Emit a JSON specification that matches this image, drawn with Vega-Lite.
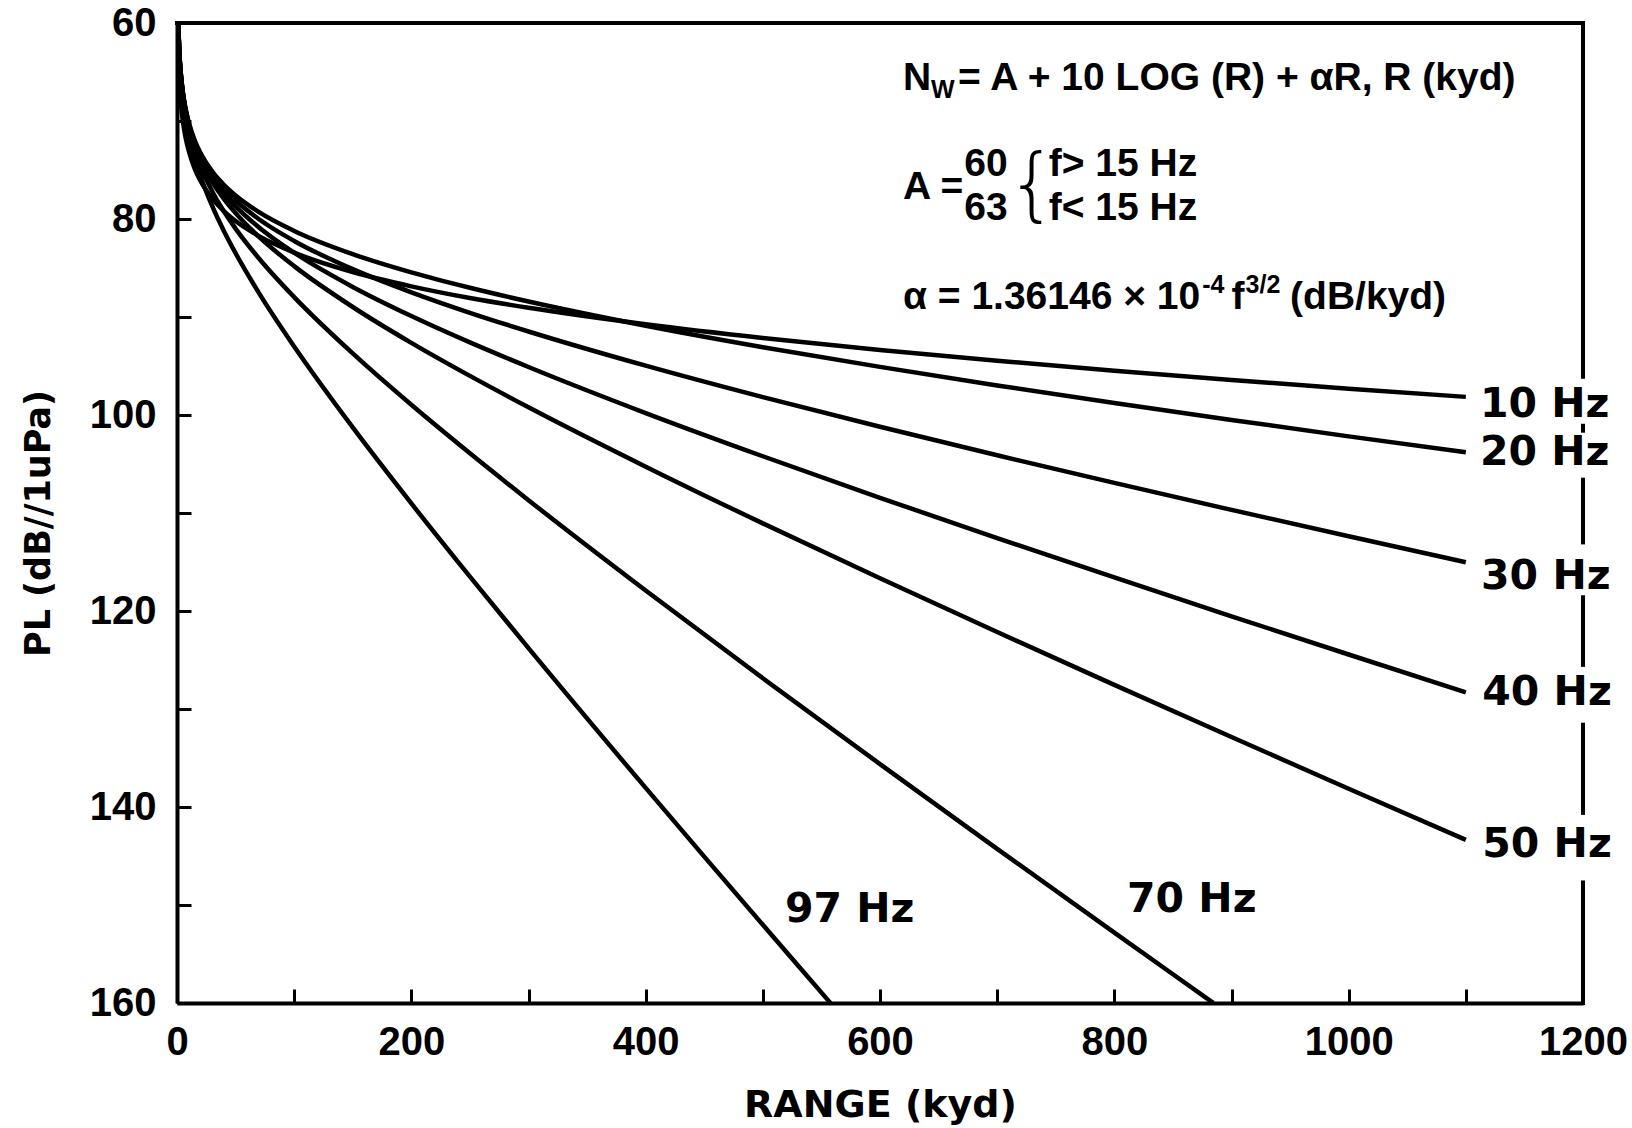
{
  "$schema": "https://vega.github.io/schema/vega-lite/v6.json",
  "width": 1406,
  "height": 980,
  "autosize": {"type": "none"},
  "padding": {"left": 177, "top": 23, "right": 49, "bottom": 125},
  "background": "white",
  "config": {"view": {"stroke": null}},
  "datasets": {
    "curves": [
      {"f":"10","r":1,"pl":63.00},{"f":"10","r":2,"pl":66.02},{"f":"10","r":3,"pl":67.78},{"f":"10","r":5,"pl":70.01},{"f":"10","r":7,"pl":71.48},{"f":"10","r":10,"pl":73.04},{"f":"10","r":15,"pl":74.83},{"f":"10","r":20,"pl":76.10},{"f":"10","r":30,"pl":77.90},{"f":"10","r":40,"pl":79.19},{"f":"10","r":50,"pl":80.21},{"f":"10","r":70,"pl":81.75},{"f":"10","r":100,"pl":83.43},{"f":"10","r":150,"pl":85.41},{"f":"10","r":200,"pl":86.87},{"f":"10","r":250,"pl":88.06},{"f":"10","r":300,"pl":89.06},{"f":"10","r":400,"pl":90.74},{"f":"10","r":500,"pl":92.14},{"f":"10","r":600,"pl":93.36},{"f":"10","r":700,"pl":94.46},{"f":"10","r":800,"pl":95.48},{"f":"10","r":900,"pl":96.42},{"f":"10","r":1000,"pl":97.31},{"f":"10","r":1100,"pl":98.15},
      {"f":"20","r":1,"pl":60.01},{"f":"20","r":2,"pl":63.03},{"f":"20","r":3,"pl":64.81},{"f":"20","r":5,"pl":67.05},{"f":"20","r":7,"pl":68.54},{"f":"20","r":10,"pl":70.12},{"f":"20","r":15,"pl":71.94},{"f":"20","r":20,"pl":73.25},{"f":"20","r":30,"pl":75.14},{"f":"20","r":40,"pl":76.51},{"f":"20","r":50,"pl":77.60},{"f":"20","r":70,"pl":79.30},{"f":"20","r":100,"pl":81.22},{"f":"20","r":150,"pl":83.59},{"f":"20","r":200,"pl":85.45},{"f":"20","r":250,"pl":87.02},{"f":"20","r":300,"pl":88.42},{"f":"20","r":400,"pl":90.89},{"f":"20","r":500,"pl":93.08},{"f":"20","r":600,"pl":95.09},{"f":"20","r":700,"pl":96.98},{"f":"20","r":800,"pl":98.77},{"f":"20","r":900,"pl":100.50},{"f":"20","r":1000,"pl":102.18},{"f":"20","r":1100,"pl":103.81},
      {"f":"30","r":1,"pl":60.02},{"f":"30","r":2,"pl":63.06},{"f":"30","r":3,"pl":64.84},{"f":"30","r":5,"pl":67.10},{"f":"30","r":7,"pl":68.61},{"f":"30","r":10,"pl":70.22},{"f":"30","r":15,"pl":72.10},{"f":"30","r":20,"pl":73.46},{"f":"30","r":30,"pl":75.44},{"f":"30","r":40,"pl":76.92},{"f":"30","r":50,"pl":78.11},{"f":"30","r":70,"pl":80.02},{"f":"30","r":100,"pl":82.24},{"f":"30","r":150,"pl":85.12},{"f":"30","r":200,"pl":87.48},{"f":"30","r":250,"pl":89.57},{"f":"30","r":300,"pl":91.48},{"f":"30","r":400,"pl":94.97},{"f":"30","r":500,"pl":98.18},{"f":"30","r":600,"pl":101.20},{"f":"30","r":700,"pl":104.11},{"f":"30","r":800,"pl":106.93},{"f":"30","r":900,"pl":109.68},{"f":"30","r":1000,"pl":112.37},{"f":"30","r":1100,"pl":115.02},
      {"f":"40","r":1,"pl":60.03},{"f":"40","r":2,"pl":63.08},{"f":"40","r":3,"pl":64.87},{"f":"40","r":5,"pl":67.16},{"f":"40","r":7,"pl":68.69},{"f":"40","r":10,"pl":70.34},{"f":"40","r":15,"pl":72.28},{"f":"40","r":20,"pl":73.70},{"f":"40","r":30,"pl":75.80},{"f":"40","r":40,"pl":77.40},{"f":"40","r":50,"pl":78.71},{"f":"40","r":70,"pl":80.86},{"f":"40","r":100,"pl":83.44},{"f":"40","r":150,"pl":86.93},{"f":"40","r":200,"pl":89.90},{"f":"40","r":250,"pl":92.59},{"f":"40","r":300,"pl":95.10},{"f":"40","r":400,"pl":99.80},{"f":"40","r":500,"pl":104.21},{"f":"40","r":600,"pl":108.45},{"f":"40","r":700,"pl":112.56},{"f":"40","r":800,"pl":116.58},{"f":"40","r":900,"pl":120.54},{"f":"40","r":1000,"pl":124.44},{"f":"40","r":1100,"pl":128.30},
      {"f":"50","r":1,"pl":60.05},{"f":"50","r":2,"pl":63.11},{"f":"50","r":3,"pl":64.92},{"f":"50","r":5,"pl":67.23},{"f":"50","r":7,"pl":68.79},{"f":"50","r":10,"pl":70.48},{"f":"50","r":15,"pl":72.48},{"f":"50","r":20,"pl":73.97},{"f":"50","r":30,"pl":76.22},{"f":"50","r":40,"pl":77.95},{"f":"50","r":50,"pl":79.40},{"f":"50","r":70,"pl":81.82},{"f":"50","r":100,"pl":84.81},{"f":"50","r":150,"pl":88.98},{"f":"50","r":200,"pl":92.64},{"f":"50","r":250,"pl":96.01},{"f":"50","r":300,"pl":99.21},{"f":"50","r":400,"pl":105.27},{"f":"50","r":500,"pl":111.06},{"f":"50","r":600,"pl":116.66},{"f":"50","r":700,"pl":122.15},{"f":"50","r":800,"pl":127.54},{"f":"50","r":900,"pl":132.86},{"f":"50","r":1000,"pl":138.14},{"f":"50","r":1100,"pl":143.36},
      {"f":"70","r":1,"pl":60.08},{"f":"70","r":2,"pl":63.17},{"f":"70","r":3,"pl":65.01},{"f":"70","r":5,"pl":67.39},{"f":"70","r":7,"pl":69.01},{"f":"70","r":10,"pl":70.80},{"f":"70","r":15,"pl":72.96},{"f":"70","r":20,"pl":74.61},{"f":"70","r":30,"pl":77.16},{"f":"70","r":40,"pl":79.21},{"f":"70","r":50,"pl":80.98},{"f":"70","r":70,"pl":84.03},{"f":"70","r":100,"pl":87.97},{"f":"70","r":150,"pl":93.72},{"f":"70","r":200,"pl":98.96},{"f":"70","r":250,"pl":103.91},{"f":"70","r":300,"pl":108.69},{"f":"70","r":400,"pl":117.91},{"f":"70","r":500,"pl":126.86},{"f":"70","r":600,"pl":135.62},{"f":"70","r":700,"pl":144.27},{"f":"70","r":800,"pl":152.82},{"f":"70","r":850,"pl":157.07},{"f":"70","r":884.6,"pl":160},
      {"f":"97","r":1,"pl":60.13},{"f":"97","r":2,"pl":63.27},{"f":"97","r":3,"pl":65.16},{"f":"97","r":5,"pl":67.64},{"f":"97","r":7,"pl":69.36},{"f":"97","r":10,"pl":71.30},{"f":"97","r":15,"pl":73.71},{"f":"97","r":20,"pl":75.61},{"f":"97","r":30,"pl":78.67},{"f":"97","r":40,"pl":81.22},{"f":"97","r":50,"pl":83.49},{"f":"97","r":70,"pl":87.56},{"f":"97","r":100,"pl":93.01},{"f":"97","r":150,"pl":101.27},{"f":"97","r":200,"pl":109.02},{"f":"97","r":250,"pl":116.50},{"f":"97","r":300,"pl":123.79},{"f":"97","r":400,"pl":138.05},{"f":"97","r":450,"pl":145.06},{"f":"97","r":500,"pl":152.02},{"f":"97","r":530,"pl":156.18},{"f":"97","r":557.7,"pl":160}
    ],
    "frame": [
      {"r":0,"r2":1200,"pl":60,"pl2":60},
      {"r":1200,"r2":1200,"pl":60,"pl2":96.1},
      {"r":1200,"r2":1200,"pl":101.1,"pl2":101.6},
      {"r":1200,"r2":1200,"pl":106.6,"pl2":113.0},
      {"r":1200,"r2":1200,"pl":118.6,"pl2":125.5},
      {"r":1200,"r2":1200,"pl":131.6,"pl2":140.6},
      {"r":1200,"r2":1200,"pl":147.7,"pl2":160}
    ],
    "ann": [
      {"r":619.6,"pl":65.61,"t":"N"},
      {"r":666.6,"pl":65.61,"t":"= A + 10 LOG (R) + αR, R (kyd)"},
      {"r":619.6,"pl":76.73,"t":"A ="},
      {"r":672,"pl":74.39,"t":"60"},
      {"r":672,"pl":78.88,"t":"63"},
      {"r":744,"pl":74.39,"t":"f> 15 Hz"},
      {"r":744,"pl":78.88,"t":"f< 15 Hz"},
      {"r":619.6,"pl":87.96,"t":"α = 1.36146 × 10"},
      {"r":900,"pl":87.96,"t":"f"},
      {"r":950,"pl":87.96,"t":"(dB/kyd)"}
    ],
    "small": [
      {"r":643.5,"pl":66.8,"t":"W"},
      {"r":875,"pl":86.73,"t":"-4"},
      {"r":912,"pl":86.73,"t":"3/2"}
    ],
    "brace": [
      {"r":730,"pl":76.73,"t":"{"}
    ],
    "labels": [
      {"r":1112,"pl":98.98,"t":"10 Hz"},
      {"r":1112,"pl":103.88,"t":"20 Hz"},
      {"r":1113,"pl":116.53,"t":"30 Hz"},
      {"r":1114,"pl":128.37,"t":"40 Hz"},
      {"r":1114,"pl":143.88,"t":"50 Hz"},
      {"r":810.8,"pl":149.5,"t":"70 Hz"},
      {"r":518.9,"pl":150.5,"t":"97 Hz"}
    ]
  },
  "layer": [
    {
      "data": {"name": "curves"},
      "mark": {"type": "line", "color": "black", "strokeWidth": 4.5, "interpolate": "monotone"},
      "encoding": {
        "x": {
          "field": "r", "type": "quantitative",
          "scale": {"domain": [0, 1200], "nice": false, "zero": false},
          "axis": {
            "title": "RANGE (kyd)",
            "values": [0,100,200,300,400,500,600,700,800,900,1000,1100,1200],
            "labelExpr": "datum.value % 200 === 0 ? datum.label : ''",
            "format": "d",
            "grid": false,
            "domainColor": "black", "domainWidth": 4,
            "tickColor": "black", "tickWidth": 3, "tickSize": -14,
            "labelFont": "Liberation Sans", "labelFontWeight": "bold", "labelFontSize": 40, "labelColor": "black",
            "labelPadding": 33, "labelFlush": false, "labelOverlap": false,
            "titleFont": "DejaVu Sans", "titleFontWeight": "bold", "titleFontSize": 38, "titleColor": "black",
            "titleY": 113, "titleBaseline": "alphabetic"
          }
        },
        "y": {
          "field": "pl", "type": "quantitative",
          "scale": {"domain": [60, 160], "reverse": true, "nice": false, "zero": false},
          "axis": {
            "title": "PL (dB//1uPa)",
            "values": [60,70,80,90,100,110,120,130,140,150,160],
            "labelExpr": "datum.value % 20 === 0 ? datum.label : ''",
            "grid": false,
            "domainColor": "black", "domainWidth": 4,
            "tickColor": "black", "tickWidth": 3, "tickSize": -14,
            "labelFont": "Liberation Sans", "labelFontWeight": "bold", "labelFontSize": 40, "labelColor": "black",
            "labelPadding": 35, "labelFlush": false, "labelOverlap": false,
            "titleFont": "DejaVu Sans", "titleFontWeight": "bold", "titleFontSize": 35, "titleColor": "black",
            "titleX": -128, "titleY": 500, "titleBaseline": "alphabetic", "titleAngle": -90
          }
        },
        "detail": {"field": "f", "type": "nominal"}
      }
    },
    {
      "data": {"name": "frame"},
      "mark": {"type": "rule", "color": "black", "strokeWidth": 4, "strokeCap": "square"},
      "encoding": {
        "x": {"field": "r", "type": "quantitative"},
        "x2": {"field": "r2"},
        "y": {"field": "pl", "type": "quantitative"},
        "y2": {"field": "pl2"}
      }
    },
    {
      "data": {"name": "ann"},
      "mark": {"type": "text", "align": "left", "baseline": "middle", "font": "Liberation Sans", "fontWeight": "bold", "fontSize": 39, "color": "black"},
      "encoding": {
        "x": {"field": "r", "type": "quantitative"},
        "y": {"field": "pl", "type": "quantitative"},
        "text": {"field": "t"}
      }
    },
    {
      "data": {"name": "small"},
      "mark": {"type": "text", "align": "left", "baseline": "middle", "font": "Liberation Sans", "fontWeight": "bold", "fontSize": 25, "color": "black"},
      "encoding": {
        "x": {"field": "r", "type": "quantitative"},
        "y": {"field": "pl", "type": "quantitative"},
        "text": {"field": "t"}
      }
    },
    {
      "data": {"name": "brace"},
      "mark": {"type": "text", "align": "center", "baseline": "middle", "font": "DejaVu Sans", "fontWeight": 200, "fontSize": 80, "color": "black"},
      "encoding": {
        "x": {"field": "r", "type": "quantitative"},
        "y": {"field": "pl", "type": "quantitative"},
        "text": {"field": "t"}
      }
    },
    {
      "data": {"name": "labels"},
      "mark": {"type": "text", "align": "left", "baseline": "middle", "font": "DejaVu Sans", "fontWeight": "bold", "fontSize": 41, "color": "black"},
      "encoding": {
        "x": {"field": "r", "type": "quantitative"},
        "y": {"field": "pl", "type": "quantitative"},
        "text": {"field": "t"}
      }
    }
  ]
}
